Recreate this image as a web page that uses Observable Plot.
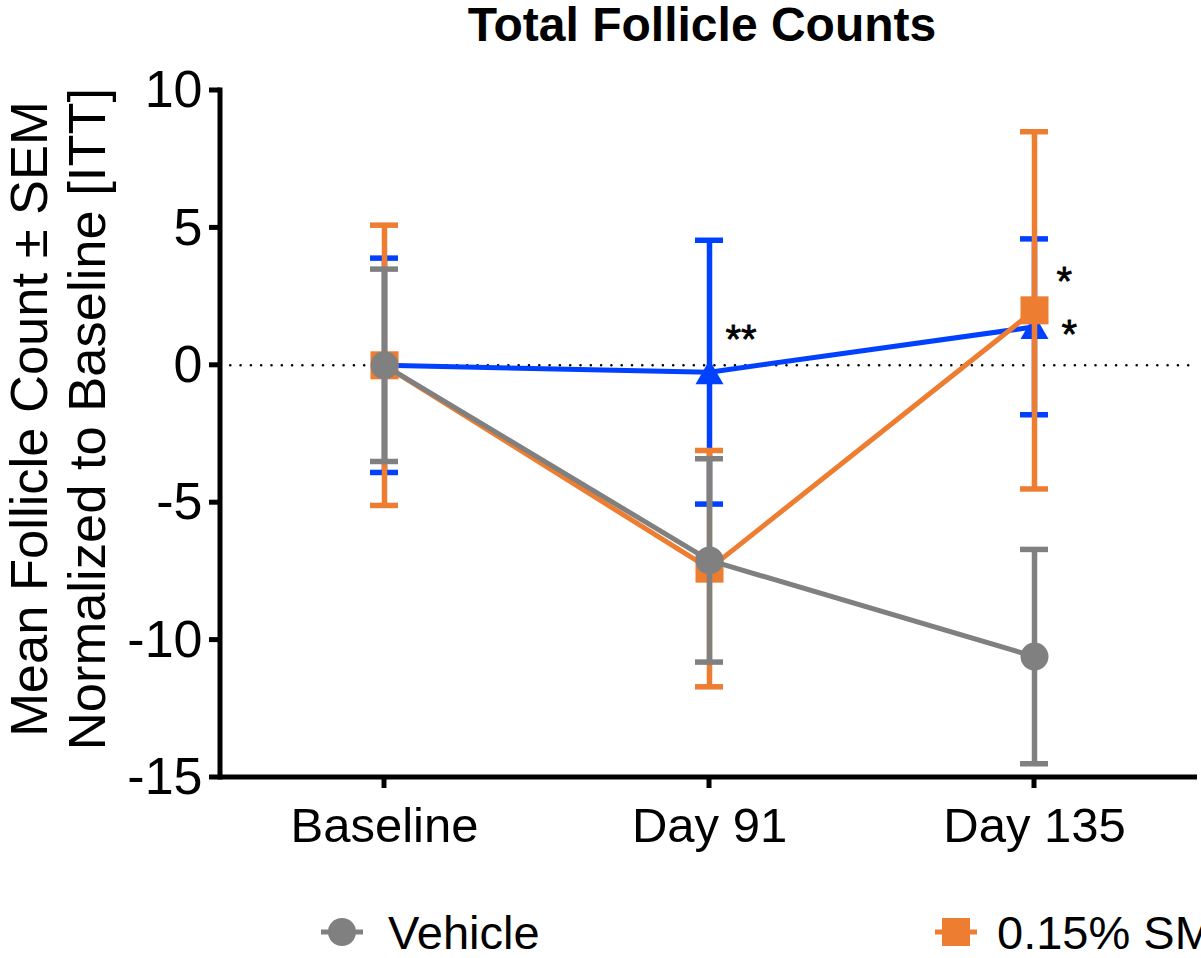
<!DOCTYPE html>
<html>
<head>
<meta charset="utf-8">
<script src="https://cdn.jsdelivr.net/npm/d3@7"></script>
<script src="https://cdn.jsdelivr.net/npm/@observablehq/plot@0.6"></script>
<style>
  html, body { margin: 0; padding: 0; background: #fff; overflow: hidden; width: 1201px; height: 958px; }
  body { font-family: Arial, "Liberation Sans", sans-serif; position: relative; }
  #title { position: relative; height: 60px; width: 1201px; }
  #title span { position: absolute; left: 702px; top: 0; transform: translateX(-50%); white-space: nowrap;
                font-size: 48px; line-height: 50px; font-weight: bold; color: #000; }
  #chart { height: 820px; }
  #legend { position: relative; width: 1201px; height: 78px; overflow: hidden; }
  #legend .lab { position: absolute; font-size: 47px; line-height: 46px; color: #000; white-space: nowrap; }
  #legend svg { position: absolute; }
</style>
</head>
<body>
<div id="title"></div>
<div id="chart"></div>
<div id="legend"></div>
<script>
// ---- data ----
const chartTitle = "Total Follicle Counts";
const timepoints = ["Baseline", "Day 91", "Day 135"];
const seriesNames = ["Vehicle", "0.15% SM", "Series 3"];
const seriesColors = ["#808080", "#ED7D31", "#0040FF"];
const seriesSymbols = ["circle", "square", "triangle"];
const vehicleMean = [0, -7.1, -10.6];
const vehicleSEM  = [3.5, 3.7, 3.9];
const sm015Mean   = [0, -7.4, 2.0];
const sm015SEM    = [5.1, 4.3, 6.5];
const series3Mean = [0, -0.25, 1.4];
const series3SEM  = [3.9, 4.8, 3.2];
const yTicks = [-15, -10, -5, 0, 5, 10];
const yLabelLines = ["Mean Follicle Count \u00B1 SEM", "Normalized to Baseline [ITT]"];
const annotations = [
  {time: "Day 91",  value: 0.92, label: "**", dx: 16},
  {time: "Day 135", value: 3.02, label: "*",  dx: 22},
  {time: "Day 135", value: 1.1,  label: "*",  dx: 27}
];
const legendSeries = [0, 1];

// ---- build table ----
const means = [vehicleMean, sm015Mean, series3Mean];
const sems = [vehicleSEM, sm015SEM, series3SEM];
const rows = [];
seriesNames.forEach((name, s) => {
  timepoints.forEach((t, i) => {
    rows.push({series: name, s, time: t, mean: means[s][i], lo: means[s][i] - sems[s][i], hi: means[s][i] + sems[s][i]});
  });
});

const symbolR = {circle: 14, square: 15.8, triangle: 10.4};
const symbolDy = {circle: 0, square: 0, triangle: 4};

document.querySelector("#title").innerHTML = "<span>" + chartTitle + "</span>";

// axis lines and ticks drawn from the scales
function axesLines(index, scales, values, dims) {
  const g = d3.create("svg:g").attr("stroke", "#000").attr("stroke-width", 5).attr("fill", "none");
  const x0 = dims.marginLeft, x1 = dims.width - dims.marginRight;
  const y0 = dims.height - dims.marginBottom, yTop = dims.marginTop;
  g.append("line").attr("x1", x0).attr("x2", x1).attr("y1", y0).attr("y2", y0);
  g.append("line").attr("x1", x0).attr("x2", x0).attr("y1", yTop - 2.5).attr("y2", y0 + 2.5);
  yTicks.forEach(v => {
    const y = scales.y(v);
    g.append("line").attr("x1", x0 - 11).attr("x2", x0).attr("y1", y).attr("y2", y);
  });
  const bw = scales.x.bandwidth ? scales.x.bandwidth() : 0;
  timepoints.forEach(t => {
    const x = scales.x(t) + bw / 2;
    g.append("line").attr("x1", x).attr("x2", x).attr("y1", y0).attr("y2", y0 + 11);
  });
  return g.node();
}

const marks = [
  Plot.ruleY([0], {stroke: "#000", strokeWidth: 2.6, strokeDasharray: "0,10.3", strokeLinecap: "round"})
];
// draw order: series 3 (blue), then 0.15% SM (orange), then Vehicle (gray)
[2, 1, 0].forEach(s => {
  const d = rows.filter(r => r.s === s);
  const c = seriesColors[s];
  const sym = seriesSymbols[s];
  marks.push(
    Plot.ruleX(d, {x: "time", y1: "lo", y2: "hi", stroke: c, strokeWidth: 5.5}),
    Plot.tickY(d, {x: "time", y: "hi", stroke: c, strokeWidth: 5.5}),
    Plot.tickY(d, {x: "time", y: "lo", stroke: c, strokeWidth: 5.5}),
    Plot.line(d, {x: "time", y: "mean", stroke: c, strokeWidth: 5}),
    Plot.dot(d, {x: "time", y: "mean", fill: c, stroke: "none", symbol: sym, r: symbolR[sym], dy: symbolDy[sym]})
  );
});
annotations.forEach(a => {
  marks.push(Plot.text([a], {x: "time", y: "value", text: "label", dx: a.dx, textAnchor: "start",
    fontSize: 40, fill: "#000", stroke: "#000", strokeWidth: 0.8}));
});
marks.push(
  Plot.text([yLabelLines[0]], {text: d => d, frameAnchor: "left", textAnchor: "middle", dx: -190, dy: -15, rotate: -90, fontSize: 52.5, fill: "#000"}),
  Plot.text([yLabelLines[1]], {text: d => d, frameAnchor: "left", textAnchor: "middle", dx: -132, dy: -15, rotate: -90, fontSize: 52.5, fill: "#000"}),
  Plot.axisY({ticks: yTicks, tickFormat: d => String(d), tickSize: 0, tickPadding: 18, fontSize: 52, label: null}),
  Plot.axisX({tickSize: 0, tickPadding: 30, fontSize: 49, label: null}),
  axesLines
);

const chart = Plot.plot({
  width: 1201,
  height: 820,
  marginLeft: 220,
  marginRight: 4,
  marginTop: 30,
  marginBottom: 103,
  x: {type: "band", domain: timepoints, paddingInner: 0.914, paddingOuter: 0.457},
  y: {domain: [-15, 10]},
  style: {fontFamily: 'Arial, "Liberation Sans", sans-serif', background: "white", color: "black", overflow: "visible"},
  marks
});
document.querySelector("#chart").append(chart);

// ---- legend ----
const legend = d3.select("#legend");
const legendMarkerX = [342, 956];
const legendTextX = [388, 997];
const legendCy = 52;
legendSeries.forEach((s, k) => {
  const sym = seriesSymbols[s];
  const svg = legend.append("svg")
    .attr("width", 44).attr("height", 36)
    .style("left", (legendMarkerX[k] - 22) + "px")
    .style("top", (legendCy - 18) + "px");
  svg.append("line").attr("x1", 1).attr("x2", 43).attr("y1", 18).attr("y2", 18)
    .attr("stroke", seriesColors[s]).attr("stroke-width", 5);
  const typ = {circle: d3.symbolCircle, square: d3.symbolSquare, triangle: d3.symbolTriangle}[sym];
  const r = symbolR[sym];
  svg.append("path").attr("transform", `translate(22,${18 + symbolDy[sym]})`)
    .attr("d", d3.symbol(typ, Math.PI * r * r)())
    .attr("fill", seriesColors[s]);
  legend.append("div").attr("class", "lab")
    .style("left", legendTextX[k] + "px")
    .style("top", (legendCy - 22) + "px")
    .text(seriesNames[s]);
});
</script>
</body>
</html>
